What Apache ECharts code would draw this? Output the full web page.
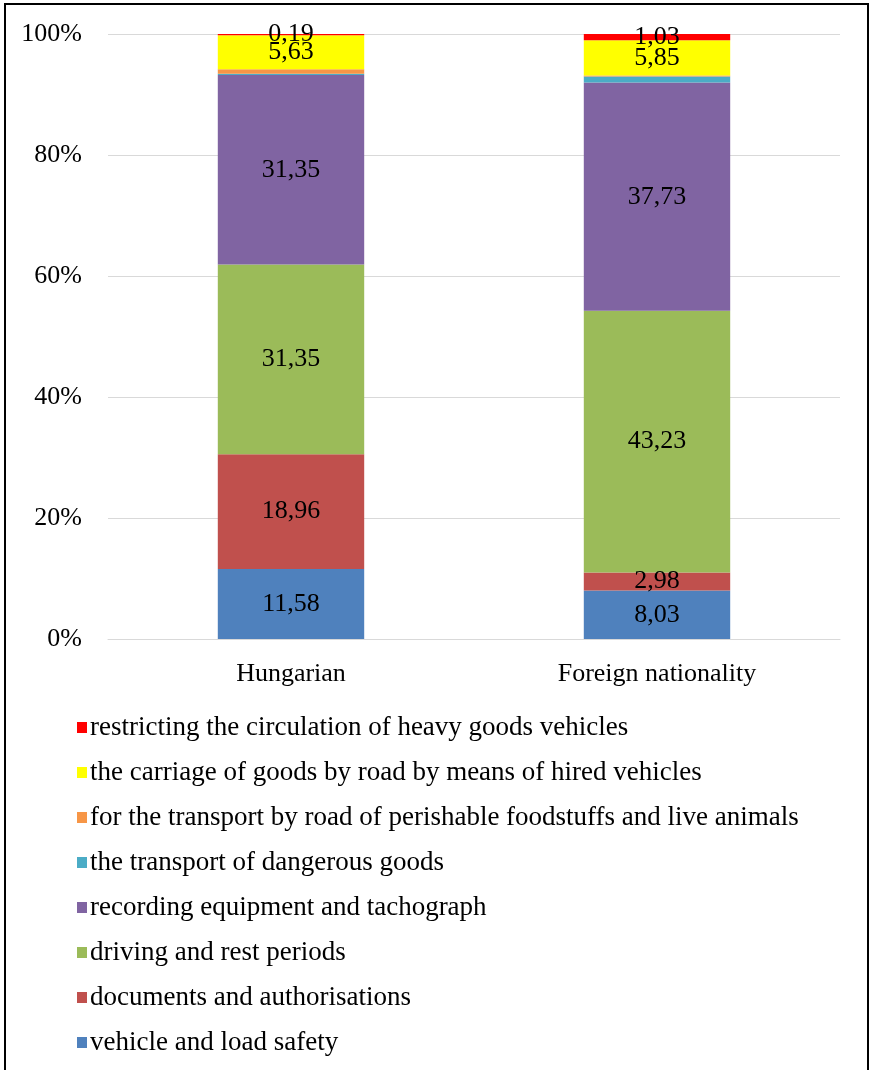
<!DOCTYPE html>
<html>
<head>
<meta charset="utf-8">
<script src="https://cdn.jsdelivr.net/npm/echarts@6/dist/echarts.min.js"></script>
<style>
html,body{margin:0;padding:0;background:#fff;}
#chart{width:869px;height:1070px;}
</style>
</head>
<body>
<div id="chart"></div>
<script>
const categories = ['Hungarian', 'Foreign nationality'];
const seriesNames = [
  'vehicle and load safety',
  'documents and authorisations',
  'driving and rest periods',
  'recording equipment and tachograph',
  'the transport of dangerous goods',
  'for the transport by road of perishable foodstuffs and live animals',
  'the carriage of goods by road by means of hired vehicles',
  'restricting the circulation of heavy goods vehicles'
];
const vehicleSafety = [11.58, 8.03];
const documents = [18.96, 2.98];
const drivingRest = [31.35, 43.23];
const tachograph = [31.35, 37.73];
const dangerousGoods = [0.21, 1.00];
const perishable = [0.73, 0.15];
const hiredVehicles = [5.63, 5.85];
const restricting = [0.19, 1.03];
const yTicks = [0, 20, 40, 60, 80, 100];

const seriesValues = [vehicleSafety, documents, drivingRest, tachograph, dangerousGoods, perishable, hiredVehicles, restricting];
const colors = ['#4F81BD', '#C0504D', '#9BBB59', '#8064A2', '#4BACC6', '#F79646', '#FFFF00', '#FF0000'];
const showLabel = [true, true, true, true, false, false, true, true];
const FONT = '"Liberation Serif", "Times New Roman", serif';

const chart = echarts.init(document.getElementById('chart'));
chart.setOption({
  animation: false,
  textStyle: { fontFamily: FONT },
  graphic: [{
    type: 'rect',
    shape: { x: 5, y: 4, width: 863, height: 1090 },
    style: { fill: 'none', stroke: '#000', lineWidth: 2 },
    silent: true
  }],
  grid: { left: 108, right: 29, top: 34, bottom: 431, containLabel: false },
  xAxis: {
    type: 'category',
    data: categories,
    axisLine: { lineStyle: { color: '#d9d9d9', width: 1 } },
    axisTick: { show: false },
    axisLabel: { color: '#000', fontSize: 26, fontFamily: FONT, margin: 22 }
  },
  yAxis: {
    type: 'value',
    min: yTicks[0],
    max: yTicks[yTicks.length - 1],
    interval: 20,
    axisLine: { show: false },
    axisTick: { show: false },
    splitLine: { lineStyle: { color: '#d9d9d9', width: 1 } },
    axisLabel: { color: '#000', fontSize: 26, fontFamily: FONT, margin: 26, formatter: '{value}%' }
  },
  legend: {
    orient: 'vertical',
    left: 77,
    top: 714,
    padding: 0,
    itemWidth: 10,
    itemHeight: 11,
    itemGap: 18,
    icon: 'rect',
    data: seriesNames.slice().reverse(),
    textStyle: { color: '#000', fontSize: 27, fontFamily: FONT, lineHeight: 27, padding: [0, 0, 0, -2] }
  },
  series: seriesNames.map((name, i) => ({
    name: name,
    type: 'bar',
    stack: 'total',
    barWidth: '40%',
    data: seriesValues[i],
    itemStyle: { color: colors[i] },
    label: {
      show: showLabel[i],
      position: 'inside',
      color: '#000',
      fontSize: 26,
      fontFamily: FONT,
      formatter: p => p.value.toFixed(2).replace('.', ',')
    }
  }))
});
</script>
</body>
</html>
